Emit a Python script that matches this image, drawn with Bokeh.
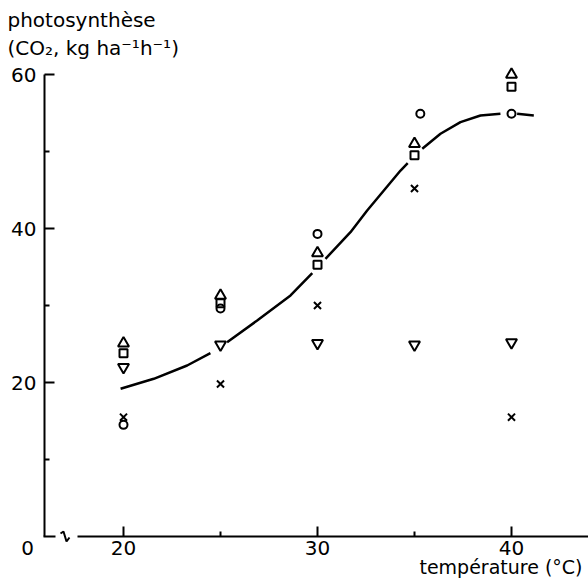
from bokeh.plotting import figure
from bokeh.models import Range1d, FixedTicker, Label, LinearAxis
from bokeh.embed import file_html
from bokeh.resources import INLINE

# --- data ---
temp_main = [20, 25, 30, 35, 40]
up_triangle = [25.1, 31.3, 36.8, 51.0, 60.0]
square = [23.8, 30.3, 35.3, 49.5, 58.4]
down_triangle = [22.0, 24.9, 25.1, 24.9, 25.2]
cross = [15.5, 19.8, 30.0, 45.2, 15.5]
circle_x = [20, 25, 30, 35.3, 40]
circle = [14.5, 29.6, 39.3, 54.9, 54.9]

# hand-drawn curve (NaN = gap around a marker)
NAN = float("nan")
curve_x = [19.85, 21.56, 23.28, 24.48, NAN, 25.34, 26.89, 28.61, 29.73, NAN,
           30.41, 31.70, 32.56, 33.42, 34.28, 34.65, NAN,
           35.40, 36.34, 37.37, 38.40, 39.43, NAN, 40.29, 41.15]
curve_y = [19.18, 20.48, 22.21, 23.81, NAN, 25.23, 28.05, 31.30, 34.19, NAN,
           36.06, 39.52, 42.34, 44.94, 47.53, 48.48, NAN,
           50.35, 52.30, 53.81, 54.68, 54.90, NAN, 54.90, 54.68]

x_ticks = [20, 30, 40]
x_minor = [25, 35]
y_ticks = [20, 40, 60]
y_minor = [10, 30, 50]

FONT = "DejaVu Sans"
FS = "20px"

# scale: 19.4 px per degree, 7.7 px per unit; frame = whole canvas
W, H = 588, 580
XPX, YPX = 19.4, 7.7
X0 = 20 - 123 / XPX
X1 = X0 + W / XPX
Y1 = 536 / YPX
Y0 = Y1 - H / YPX
px2x = lambda px: X0 + px / XPX
py2y = lambda py: (536 - py) / YPX

p = figure(width=W, height=H, output_backend="svg", toolbar_location=None,
           x_range=Range1d(X0, X1), y_range=Range1d(Y0, Y1),
           x_axis_location=None, y_axis_location=None,
           min_border=0)
p.outline_line_color = None
p.grid.visible = False
p.background_fill_color = "white"
p.border_fill_color = "white"

xaxis = LinearAxis(fixed_location=0, bounds=(px2x(77), X1),
                   ticker=FixedTicker(ticks=x_ticks, minor_ticks=x_minor))
yaxis = LinearAxis(fixed_location=px2x(44), bounds=(0, 60),
                   ticker=FixedTicker(ticks=y_ticks, minor_ticks=y_minor))
for ax in (xaxis, yaxis):
    ax.axis_line_width = 2
    ax.major_tick_line_width = 2
    ax.minor_tick_line_width = 2
    ax.major_tick_out = 0
    ax.major_tick_in = 10
    ax.minor_tick_out = 0
    ax.minor_tick_in = 5
    ax.major_label_text_font = FONT
    ax.major_label_text_font_size = FS
    ax.major_label_text_color = "black"
    ax.axis_line_color = "black"
    ax.major_tick_line_color = "black"
    ax.minor_tick_line_color = "black"
xaxis.major_label_standoff = 4
yaxis.major_label_standoff = 8
p.add_layout(xaxis, "below")
p.add_layout(yaxis, "left")

# axis corner and break mark
p.line([px2x(43), px2x(55)], [0, 0], line_width=2, color="black")
p.line([px2x(q) for q in (60, 63, 66, 69)],
       [py2y(q) for q in (533, 531, 541, 537)], line_width=2, color="black")

# curve
p.line(curve_x, curve_y, line_width=2.5, color="black")

mk = dict(line_color="black", line_width=2, fill_color=None)
p.scatter(temp_main, up_triangle, marker="triangle", size=11, **mk)
p.scatter(temp_main, square, marker="square", size=8, **mk)
p.scatter(temp_main, down_triangle, marker="inverted_triangle", size=11, **mk)
p.scatter(temp_main, cross, marker="x", size=10, **mk)
p.scatter(circle_x, circle, marker="circle", size=8, **mk)

def lab(txt, px, py, align="left", baseline="top", size=FS):
    p.add_layout(Label(x=px2x(px), y=py2y(py), text=txt, text_font=FONT,
                       text_font_size=size, text_align=align,
                       text_baseline=baseline, text_color="black"))

lab("photosynthèse", 7, 7)
lab("(CO₂, kg ha⁻¹h⁻¹)", 7, 35)
lab("0", 27, 540, align="center")
lab("température (°C)", 582, 555, align="right", size="19px")

open("out.html", "w").write(file_html(p, INLINE))
